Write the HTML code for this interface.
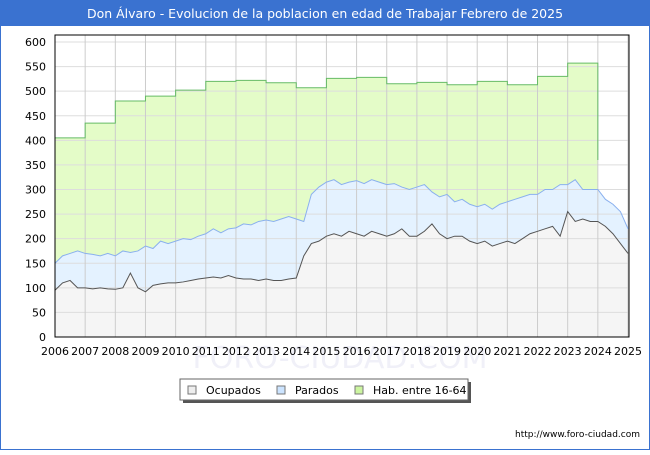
<!DOCTYPE html>
<html><head><meta charset="utf-8"><style>
body{margin:0;background:#fff}
svg text{font-family:"DejaVu Sans","Liberation Sans",sans-serif}
</style></head><body>
<svg width="650" height="450" xmlns="http://www.w3.org/2000/svg">
<rect x="0.5" y="0.5" width="649" height="449" fill="#fff" stroke="#3a72d0"/>
<rect x="0" y="0" width="650" height="26" fill="#3a72d0"/>
<text x="325" y="18" text-anchor="middle" font-size="12.5" fill="#fff">Don Álvaro - Evolucion de la poblacion en edad de Trabajar Febrero de 2025</text>
<text x="340" y="368" text-anchor="middle" font-size="30" fill="#f0f0f8">FORO-CIUDAD.COM</text>
<g id="plot"></g>
<g>
<rect x="183" y="382" width="288" height="21" fill="#555"/>
<rect x="180" y="379" width="288" height="21" fill="#fff" stroke="#666"/>
<rect x="188" y="386" width="8" height="8" fill="#eee" stroke="#777"/>
<text x="206" y="394" font-size="11">Ocupados</text>
<rect x="277" y="386" width="8" height="8" fill="#cce4ff" stroke="#777"/>
<text x="295" y="394" font-size="11">Parados</text>
<rect x="355" y="386" width="8" height="8" fill="#ccf5a0" stroke="#777"/>
<text x="373" y="394" font-size="11">Hab. entre 16-64</text>
</g>
<text x="640" y="437" text-anchor="end" font-size="9">http://www.foro-ciudad.com</text>
</svg>
<script>
const years=[2006,2007,2008,2009,2010,2011,2012,2013,2014,2015,2016,2017,2018,2019,2020,2021,2022,2023,2024,2025];
const hab=[405,435,480,490,502,520,522,517,507,526,528,515,518,513,520,513,530,557];
const habEnd=360;
const ocupados=[95,110,115,100,100,98,100,98,97,100,130,100,92,105,108,110,110,112,115,118,120,122,120,125,120,118,118,115,118,115,115,118,120,165,190,195,205,210,205,215,210,205,215,210,205,210,220,205,205,215,230,210,200,205,205,195,190,195,185,190,195,190,200,210,215,220,225,205,255,235,240,235,235,225,210,190,170];
const parados=[55,55,55,75,70,70,65,72,68,75,42,75,93,75,87,80,85,88,83,87,90,98,92,95,102,112,110,120,120,120,125,127,120,70,100,110,110,110,105,100,108,107,105,105,105,102,85,95,100,95,65,75,90,70,75,75,75,75,75,80,80,90,85,80,75,80,75,105,55,85,60,65,65,55,60,65,50];
const yTicks=[0,50,100,150,200,250,300,350,400,450,500,550,600];
const X0=55,X1=628,Y0=337,Y1=42;
const xs=t=>X0+(t-2006)/19*(X1-X0);
const ys=v=>Y0-v/600*(Y0-Y1);
const NS="http://www.w3.org/2000/svg";
const g=document.getElementById('plot');
function mk(tag,at){const e=document.createElementNS(NS,tag);for(const k in at)e.setAttribute(k,at[k]);g.appendChild(e);return e;}
mk('rect',{x:55,y:35,width:574,height:302,fill:'#fff'});
let d=`M${xs(2006)},${ys(0)}`;
hab.forEach((v,i)=>{d+=` L${xs(2006+i)},${ys(v)} L${xs(2007+i)},${ys(v)}`;});
d+=` L${xs(2024)},${ys(habEnd)} L${xs(2024)},${ys(0)} Z`;
let e=mk('path',{d:d,fill:'#e4fcc8'});


let ld=`M${xs(2006)},${ys(hab[0])}`;
hab.forEach((v,i)=>{ld+=` L${xs(2006+i)},${ys(v)} L${xs(2007+i)},${ys(v)}`;});
ld+=` L${xs(2024)},${ys(habEnd)}`;
const tq=i=>2006+i/4;
const topVals=ocupados.map((v,i)=>v+parados[i]);
let pd=topVals.map((v,i)=>`${i?'L':'M'}${xs(tq(i))},${ys(v)}`).join(' ');
e=mk('path',{d:pd+` L${xs(tq(topVals.length-1))},${ys(0)} L${xs(2006)},${ys(0)} Z`,fill:'#e4f2ff'});


let od=ocupados.map((v,i)=>`${i?'L':'M'}${xs(tq(i))},${ys(v)}`).join(' ');
e=mk('path',{d:od+` L${xs(tq(ocupados.length-1))},${ys(0)} L${xs(2006)},${ys(0)} Z`,fill:'#f5f5f5'});


yTicks.forEach(v=>{
 const l=mk('line',{x1:55,x2:629,y1:ys(v),y2:ys(v),stroke:'#ddd'});
 
 
 const t=mk('text',{x:46,y:ys(v)+4,'text-anchor':'end','font-size':11});t.textContent=v;
 
 
});
years.forEach(y=>{
 const l=mk('line',{x1:xs(y),x2:xs(y),y1:35,y2:337,stroke:'#ccc'});
 
 
 const t=mk('text',{x:xs(y),y:355,'text-anchor':'middle','font-size':11});t.textContent=y;
 
 
});
e=mk('path',{d:ld,fill:'none',stroke:'#66bb66','stroke-width':1});


e=mk('path',{d:pd,fill:'none',stroke:'#8ab0ee','stroke-width':1});


e=mk('path',{d:od,fill:'none',stroke:'#555','stroke-width':1});


e=mk('rect',{x:55,y:35,width:574,height:302,fill:'none',stroke:'#000'});


</script>
</body></html>
